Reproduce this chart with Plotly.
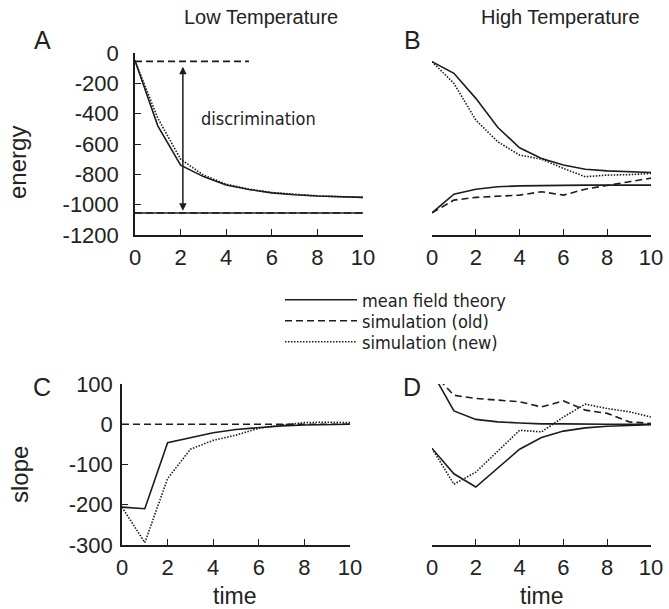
import plotly.graph_objects as go

# ---------------- data ----------------
t = [0, 1, 2, 3, 4, 5, 6, 7, 8, 9, 10]

# Panel A (low temperature, energy)
A_mean_hi = [-50, -480, -740, -815, -870, -900, -922, -935, -943, -948, -952]
A_new_hi = [-50, -430, -700, -805, -865, -898, -920, -933, -942, -948, -952]
A_mean_lo = [-1055, -1055, -1055, -1055, -1055, -1055, -1055, -1055, -1055, -1055, -1055]
A_old_lo = [-1055, -1055, -1055, -1055, -1055, -1055, -1055, -1055, -1055, -1055, -1055]
A_ref_t = [0, 5]
A_ref_e = [-55, -55]

# Panel B (high temperature, energy)
B_mean_hi = [-57, -134, -299, -490, -625, -695, -739, -766, -777, -783, -788]
B_new_hi = [-57, -200, -442, -585, -673, -700, -761, -816, -805, -802, -794]
B_mean_lo = [-1054, -931, -898, -882, -876, -873, -871, -871, -871, -871, -871]
B_old_lo = [-1054, -970, -952, -944, -937, -915, -937, -898, -871, -849, -825]

# Panel C (low temperature, slope)
C_mean = [-206, -210, -46, -33, -21, -13, -8, -4, -2, -1, 0]
C_new = [-206, -294, -135, -62, -40, -27, -10, -2, 4, 5, 4]
C_old = [0, 0, 0, 0, 0, 0, 0, 0, 0, 0, 0]

# Panel D (high temperature, slope)
D_mean_hi = [130, 33, 12, 6, 3, 1, 1, 0, 0, 0, 0]
D_old_hi = [130, 72, 64, 60, 56, 43, 58, 35, 27, 6, 2]
D_mean_lo = [-60, -123, -156, -110, -62, -33, -17, -9, -5, -3, -1]
D_new_lo = [-60, -149, -119, -66, -15, -19, 18, 50, 39, 31, 18]

energy_ticks = [0, -200, -400, -600, -800, -1000, -1200]
energy_labels = ["0", "-200", "-400", "-600", "-800", "-1000", "-1200"]
slope_ticks = [100, 0, -100, -200, -300]
slope_labels = ["100", "0", "-100", "-200", "-300"]
time_ticks = [0, 2, 4, 6, 8, 10]
time_labels = ["0", "2", "4", "6", "8", "10"]

legend_names = ["mean field theory", "simulation (old)", "simulation (new)"]

# ---------------- styling ----------------
W, H = 669, 609
INK = "#1c1c1c"
TXT = "#222222"
SANS = "Liberation Sans, Arial, Helvetica, sans-serif"
COND = "DejaVu Sans Condensed, Liberation Sans Narrow, DejaVu Sans, sans-serif"
LW = 1.6
SOLID = dict(color=INK, width=LW, dash="solid")
DASH = dict(color=INK, width=LW, dash="7px,4px")
DOT = dict(color=INK, width=LW, dash="1.5px,1.5px")


def px(x):
    return x / W


def py(y):
    return 1 - y / H


fig = go.Figure()


def add(xs, ys, xa, ya, line, name=None, legend=None):
    kw = dict(showlegend=False)
    if legend is not None:
        kw = dict(showlegend=True, legend=legend)
    fig.add_trace(go.Scatter(x=xs, y=ys, xaxis=xa, yaxis=ya, mode="lines",
                             line=line, name=name, hoverinfo="skip", **kw))


# A
add(t, A_mean_lo, "x", "y", SOLID)
add(t, A_old_lo, "x", "y", DASH)
add(A_ref_t, A_ref_e, "x", "y", DASH)
add(t, A_new_hi, "x", "y", DOT)
add(t, A_mean_hi, "x", "y", SOLID)
# B
add(t, B_mean_hi, "x2", "y2", SOLID, legend_names[0], "legend")
add(t, B_old_lo, "x2", "y2", DASH, legend_names[1], "legend2")
add(t, B_new_hi, "x2", "y2", DOT, legend_names[2], "legend3")
add(t, B_mean_lo, "x2", "y2", SOLID)
# C
add(t, C_old, "x3", "y3", DASH)
add(t, C_new, "x3", "y3", DOT)
add(t, C_mean, "x3", "y3", SOLID)
# D
add(t, D_old_hi, "x4", "y4", DASH)
add(t, D_new_lo, "x4", "y4", DOT)
add(t, D_mean_hi, "x4", "y4", SOLID)
add(t, D_mean_lo, "x4", "y4", SOLID)

tickfont = dict(family=SANS, size=22, color=TXT)


def xaxis(domain, anchor):
    return dict(domain=domain, anchor=anchor, range=[0, 10], tickvals=time_ticks,
                ticktext=time_labels,
                showline=True, linecolor=INK, linewidth=1.5, ticks="inside",
                ticklen=6, tickwidth=1.3, tickcolor=INK, showgrid=False,
                zeroline=False, tickfont=tickfont, ticklabelstandoff=2,
                fixedrange=True, automargin=False)


def yaxis(domain, anchor, rng, vals, labels, show, standoff=10):
    d = dict(domain=domain, anchor=anchor, range=rng, showgrid=False, zeroline=False,
             fixedrange=True, automargin=False)
    if show:
        d.update(tickvals=vals, ticktext=labels, showline=True, linecolor=INK,
                 linewidth=1.5, ticks="inside", ticklen=6, tickwidth=1.3,
                 tickcolor=INK, tickfont=tickfont, ticklabelstandoff=standoff)
    else:
        d.update(showline=False, showticklabels=False, ticks="")
    return d


xA = [px(135), px(363)]
xB = [px(432), px(651)]
xC = [px(122), px(350)]
yTop = [py(235), py(53)]
yBot = [py(545), py(384)]


def legend_box(row_y):
    return dict(x=px(280), y=py(row_y), xanchor="left", yanchor="middle",
                font=dict(family=COND, size=18, color=TXT),
                itemwidth=72, tracegroupgap=0, bgcolor="rgba(0,0,0,0)",
                itemclick=False, itemdoubleclick=False)


fig.update_layout(
    width=W, height=H,
    margin=dict(l=0, r=0, t=0, b=0, pad=0),
    paper_bgcolor="white", plot_bgcolor="white",
    xaxis=xaxis(xA, "y"),
    yaxis=yaxis(yTop, "x", [-1200, 0], energy_ticks, energy_labels, True, 10),
    xaxis2=xaxis(xB, "y2"),
    yaxis2=yaxis(yTop, "x2", [-1200, 0], energy_ticks, energy_labels, False),
    xaxis3=xaxis(xC, "y3"),
    yaxis3=yaxis(yBot, "x3", [-300, 100], slope_ticks, slope_labels, True, 3),
    xaxis4=xaxis(xB, "y4"),
    yaxis4=yaxis(yBot, "x4", [-300, 100], slope_ticks, slope_labels, False),
    showlegend=True,
    legend=legend_box(300),
    legend2=legend_box(321),
    legend3=legend_box(342),
)

ann = []


def label(text, x, y, size, family=SANS, angle=0):
    ann.append(dict(text=text, x=px(x), y=py(y), xref="paper", yref="paper",
                    showarrow=False, xanchor="center", yanchor="middle",
                    textangle=angle, font=dict(family=family, size=size, color=TXT)))


label("Low Temperature", 261, 17, 20)
label("High Temperature", 560, 17, 20)
label("A", 42, 40, 25)
label("B", 412, 40, 25)
label("C", 42, 387, 25)
label("D", 412, 387, 25)
label("energy", 17, 163, 24, angle=-90)
label("slope", 19, 475, 24, angle=-90)
label("time", 235, 596, 23)
label("time", 541, 596, 23)

# discrimination arrow and text (panel A data coordinates)
ann.append(dict(x=2.1, y=-1040, ax=2.1, ay=-80, xref="x", yref="y", axref="x",
                ayref="y", text="", showarrow=True, arrowhead=2, startarrowhead=2,
                arrowside="end+start", arrowsize=1, arrowwidth=1.5, arrowcolor=INK))
ann.append(dict(x=5.4, y=-433, xref="x", yref="y", text="discrimination",
                showarrow=False, font=dict(family=COND, size=18, color=TXT)))

fig.update_layout(annotations=ann)

fig.write_html("out.html", config={"displayModeBar": False},
               post_script="document.body.style.margin='0px';")
